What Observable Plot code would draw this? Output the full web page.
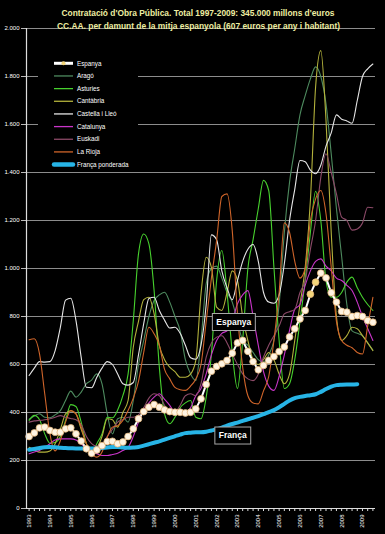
<!DOCTYPE html>
<html><head><meta charset="utf-8">
<script src="https://cdn.jsdelivr.net/npm/d3@7"></script>
<script src="https://cdn.jsdelivr.net/npm/@observablehq/plot@0.6"></script>
<style>
html,body{margin:0;padding:0;background:#000;}
#chart{width:385px;height:534px;overflow:hidden;}
</style></head><body><div id="chart"></div>
<script>
const titleLines = ["Contratació d'Obra Pública. Total 1997-2009: 345.000 millons d'euros",
                    "CC.AA. per damunt de la mitja espanyola (607 euros per any i habitant)"];
const years = d3.range(1993, 2010);
const yTicks = [0,200,400,600,800,1000,1200,1400,1600,1800,2000];
const seriesNames = ["Espanya","Aragó","Asturies","Cantàbria","Castella i Lleó","Catalunya","Euskadi","La Rioja","França ponderada"];
const seriesColors = ["#ffffff","#4e8b5f","#47d12e","#b3b23c","#e6e6e6","#c935c9","#8c4a68","#d0652a","#27b4e6"];

const espanya = [300,315,336,339,325,318,318,332,336,311,
 281,249,230,244,262,279,280,270,277,300,
 332,374,404,422,433,422,411,404,401,401,
 398,401,415,457,517,572,592,603,617,647,
 690,700,655,612,578,596,617,633,654,673,
 715,749,790,825,893,943,981,961,899,860,
 821,818,800,804,800,783,776];
const highlightQuarters = [54,55];

const arago = [372,385,395,380,378,390,408,450,489,464,
 485,520,535,561,519,394,311,374,380,360,
 450,600,700,800,867,890,901,860,800,740,
 620,560,533,700,936,1000,1010,960,900,860,
 780,700,680,650,620,610,640,700,850,1150,
 1360,1500,1640,1720,1790,1840,1800,1686,1478,1250,
 1050,850,740,730,720,690,660];

const asturies = [367,388,370,311,272,275,300,367,433,425,
 360,270,228,270,311,380,378,410,470,560,
 783,1061,1144,1103,908,589,394,353,380,420,
 440,450,380,374,464,644,950,1075,900,650,
 500,700,1000,1120,1250,1367,1325,1005,700,500,
 520,620,780,950,1150,1322,1200,950,880,880,
 900,943,964,920,880,850,825];

const cantabria = [255,245,235,235,240,270,330,394,408,394,
 330,270,228,250,300,374,370,339,400,450,
 672,780,870,880,811,680,620,589,570,547,
 547,560,617,894,1047,1005,839,825,900,990,
 950,800,700,620,600,620,650,620,560,520,
 560,700,850,1005,1283,1756,1908,1617,1150,800,
 700,720,755,749,720,690,658];

const castella = [554,585,612,610,612,658,755,868,876,783,
 630,505,503,547,585,612,600,560,520,514,
 525,640,770,875,880,825,785,752,755,730,
 680,628,622,680,850,1140,1120,990,920,870,
 950,1030,1080,1100,1030,900,860,855,890,1020,
 1200,1330,1450,1445,1410,1395,1430,1510,1565,1640,
 1622,1615,1605,1700,1800,1832,1852];

const catalunya = [228,235,242,255,270,285,290,290,290,285,
 270,250,235,228,221,221,225,230,242,255,
 300,360,408,440,464,478,455,430,400,394,
 400,420,470,500,561,640,700,730,740,780,
 853,890,908,800,680,570,510,492,550,640,
 742,830,850,930,990,1030,1040,1010,990,960,
 950,930,908,860,800,750,700];

const euskadi = [360,365,367,370,374,380,387,380,375,370,
 350,300,270,260,265,300,330,360,370,380,
 380,390,420,460,478,470,430,394,400,430,
 470,478,470,520,631,690,714,720,690,644,
 600,561,540,533,560,631,680,720,760,811,
 820,830,900,950,1080,1200,1380,1478,1400,1311,
 1214,1200,1160,1165,1190,1255,1253];

const larioja = [703,707,644,478,311,240,283,360,408,394,
 339,270,230,214,235,297,339,345,367,408,
 460,530,650,755,728,680,580,540,505,495,
 492,510,540,600,780,960,1117,1300,1311,1158,
 811,589,470,440,436,490,550,700,900,1190,
 1150,1030,960,1000,1200,1290,1325,1228,1005,780,
 700,680,670,650,644,760,880];

const franca = [245,248,252,255,256,255,253,252,251,250,
 250,250,250,250,252,254,256,256,254,253,
 254,256,262,268,274,280,287,294,301,308,
 314,316,318,318,320,325,330,337,345,352,
 358,365,372,378,385,393,402,410,422,436,
 450,460,465,469,472,476,486,498,508,514,
 516,517,517,518];

const labelTexts = ["Espanya","França"];
const labelQuarter = [39.4, 39.2];
const labelValue = [775, 302];

// ---- build tables
const regionArrays = [arago, asturies, cantabria, castella, catalunya, euskadi, larioja];
const regionRows = [];
regionArrays.forEach((arr, k) => arr.forEach((v, i) => regionRows.push({serie: seriesNames[k+1], i, v})));
const spainRows = espanya.map((v, i) => ({i, v}));
const franceRows = franca.map((v, i) => ({i, v}));
const labelRows = labelTexts.map((t, k) => ({t, i: labelQuarter[k], v: labelValue[k]}));
const quarters = d3.range(espanya.length);
const colorOf = Object.fromEntries(seriesNames.map((n, k) => [n, seriesColors[k]]));

const loc = d3.formatLocale({decimal: ",", thousands: ".", grouping: [3], currency: ["", "€"]});
const fmt = loc.format(",d");

const chart = Plot.plot({
  width: 385, height: 534,
  marginTop: 28, marginBottom: 26, marginLeft: 26, marginRight: 10,
  style: {background: "#000", color: "#fff", fontFamily: "'Liberation Sans', Arial, sans-serif", fontSize: "6px"},
  x: {domain: [-0.5, 66.5], axis: null},
  y: {domain: [0, 2000], axis: null},
  marks: [
    Plot.ruleY(yTicks.filter(d => d > 0), {stroke: "#8c8c8c", strokeWidth: 1.2}),
    Plot.line(regionRows, {x: "i", y: "v", z: "serie", stroke: d => colorOf[d.serie], strokeWidth: 1.1, curve: "monotone-x"}),
    Plot.line(franceRows, {x: "i", y: "v", stroke: seriesColors[8], strokeWidth: 4, curve: "monotone-x"}),
    Plot.line(spainRows, {x: "i", y: "v", stroke: "#ffffff", strokeWidth: 2}),
    Plot.dot(spainRows, {x: "i", y: "v", r: 3.4, fill: d => highlightQuarters.includes(d.i) ? "#f3d57a" : "#fff4e2", stroke: "#e2b478", strokeWidth: 0.8}),
    Plot.axisY({ticks: yTicks, tickFormat: fmt, tickSize: 5, tickPadding: 2, fontSize: 6, stroke: "#bbb", fill: "#fff", label: null}),
    Plot.axisX({ticks: quarters, tickSize: 3, tickPadding: 3, tickRotate: -90, fontSize: 6, stroke: "#ddd", fill: "#fff", label: null,
      tickFormat: i => i % 4 === 0 ? String(years[i / 4]) : ""}),
    Plot.ruleX([-0.5], {stroke: "#dddddd", strokeWidth: 1.2}),
    Plot.ruleY([0], {stroke: "#dddddd", strokeWidth: 1.2})
  ]
});
document.getElementById("chart").appendChild(chart);

const svg = d3.select(chart);
const sx = chart.scale("x"), sy = chart.scale("y");

// boxed annotation labels
const ag = svg.append("g").attr("font-family", "'Liberation Sans', Arial, sans-serif")
  .attr("font-weight", "bold").attr("font-size", 8.5).attr("text-anchor", "middle");
labelRows.forEach(d => {
  const cx = sx.apply(d.i), cy = sy.apply(d.v);
  const r = ag.append("rect");
  const t = ag.append("text").attr("x", cx).attr("y", cy).attr("dy", "0.35em").attr("fill", "#fff").text(d.t);
  const w = t.node().getComputedTextLength();
  r.attr("x", cx - w / 2 - 4).attr("y", cy - 8.5).attr("width", w + 8).attr("height", 17)
   .attr("fill", "#000").attr("stroke", "#a8a8a8").attr("stroke-width", 1);
});

// title
const tg = svg.append("g").attr("font-family", "'Liberation Sans', Arial, sans-serif").attr("font-weight", "bold")
  .attr("fill", "#eeeea2").attr("text-anchor", "middle").attr("font-size", 9.5);
tg.append("text").attr("x", 198).attr("y", 15.5).attr("textLength", 273).attr("lengthAdjust", "spacingAndGlyphs").text(titleLines[0]);
tg.append("text").attr("x", 198.5).attr("y", 28.5).attr("textLength", 283).attr("lengthAdjust", "spacingAndGlyphs").text(titleLines[1]);

// legend
const lg = svg.append("g").attr("font-family", "'Liberation Sans', Arial, sans-serif").attr("font-size", 6.3).attr("text-anchor", "start");
lg.append("rect").attr("x", 38).attr("y", 56).attr("width", 100).attr("height", 115).attr("fill", "#000");
seriesNames.forEach((n, k) => {
  const y = 63.3 + k * 12.66;
  const w = (k === 0) ? 3 : (k === 8 ? 4.5 : 1.3);
  lg.append("line").attr("x1", 54).attr("x2", 73).attr("y1", y).attr("y2", y)
    .attr("stroke", seriesColors[k]).attr("stroke-width", w).attr("stroke-linecap", k === 8 ? "round" : "butt");
  if (k === 0) lg.append("circle").attr("cx", 63.5).attr("cy", y).attr("r", 2).attr("fill", "#f3d57a");
  lg.append("text").attr("x", 77).attr("y", y).attr("dy", "0.35em").attr("fill", "#fff").text(n);
});
</script></body></html>
